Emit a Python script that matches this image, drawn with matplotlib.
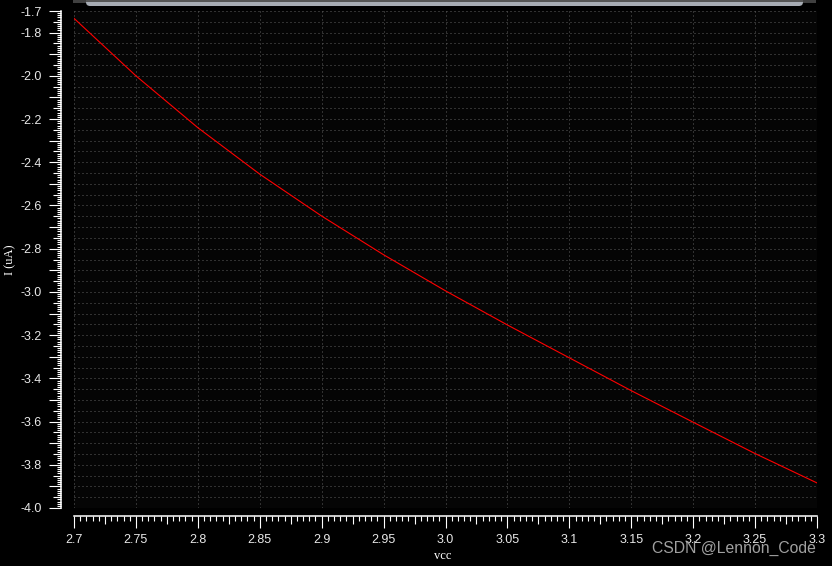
import numpy as np
import matplotlib
matplotlib.use("Agg")
import matplotlib.pyplot as plt
from matplotlib.patches import Rectangle, FancyBboxPatch
from matplotlib.transforms import IdentityTransform
from matplotlib.ticker import FixedLocator, FixedFormatter

# ---- data ----
vcc = [2.70, 2.75, 2.80, 2.85, 2.90, 2.95, 3.00, 3.05, 3.10, 3.15, 3.20, 3.25, 3.30]
current_uA = [-1.734, -2.000, -2.240, -2.455, -2.649, -2.828, -2.995, -3.153,
              -3.305, -3.457, -3.603, -3.748, -3.884]
y_label_values = [-1.7, -1.8, -2.0, -2.2, -2.4, -2.6, -2.8, -3.0, -3.2, -3.4,
                  -3.6, -3.8, -4.0]
x_label_values = [2.7, 2.75, 2.8, 2.85, 2.9, 2.95, 3.0, 3.05, 3.1, 3.15, 3.2,
                  3.25, 3.3]
x_label_texts = ["2.7", "2.75", "2.8", "2.85", "2.9", "2.95", "3.0", "3.05",
                 "3.1", "3.15", "3.2", "3.25", "3.3"]
x_title = "vcc"
y_title = "I (uA)"
watermark = "CSDN @Lennon_Code"

W, H = 832, 566
fig = plt.figure(figsize=(W / 100, H / 100), dpi=100, facecolor="black")
ax = fig.add_axes([74 / W, 1 - 508 / H, (817 - 74) / W, (508 - 11) / H])
ax.set_facecolor("#050505")

ax.plot(vcc, current_uA, color="#ff0000", lw=0.8, zorder=3)

ax.set_xlim(2.7, 3.3)
ax.set_ylim(-4.0, -1.7)

for s in ("top", "right"):
    ax.spines[s].set_visible(False)
for s in ("left", "bottom"):
    ax.spines[s].set_color("white")
    ax.spines[s].set_linewidth(1.1)
ax.spines["left"].set_position(("outward", 13 * 0.72))
ax.spines["bottom"].set_position(("outward", 8 * 0.72))

# y ticks: every 0.05 major (long at 0.1), minor every 0.01
ymaj = np.round(np.arange(-4.0, -1.7 + 1e-9, 0.05), 2)
ylabels = [f"{v:.1f}" if any(abs(v - l) < 1e-6 for l in y_label_values) else "" for v in ymaj]
ax.yaxis.set_major_locator(FixedLocator(ymaj))
ax.yaxis.set_major_formatter(FixedFormatter(ylabels))
ax.yaxis.set_minor_locator(FixedLocator(np.round(np.arange(-4.0, -1.7 + 1e-9, 0.01), 2)))

# x ticks: every 0.025 major (long at 0.05), minor every 0.005
xmaj = np.round(np.arange(2.7, 3.3 + 1e-9, 0.025), 3)
xlabels = []
for v in xmaj:
    lab = ""
    for lv, lt in zip(x_label_values, x_label_texts):
        if abs(v - lv) < 1e-6:
            lab = lt
    xlabels.append(lab)
ax.xaxis.set_major_locator(FixedLocator(xmaj))
ax.xaxis.set_major_formatter(FixedFormatter(xlabels))
ax.xaxis.set_minor_locator(FixedLocator(np.round(np.arange(2.7, 3.3 + 1e-9, 0.005), 3)))

ax.tick_params(axis="y", which="major", length=12 * 0.72, width=0.8, color="white",
               labelcolor="#e8e8e8", labelsize=9, pad=5)
ax.tick_params(axis="y", which="minor", length=4 * 0.72, width=0.8, color="white")
ax.tick_params(axis="x", which="major", length=12 * 0.72, width=0.8, color="white",
               labelcolor="#e8e8e8", labelsize=9, pad=4.5)
ax.tick_params(axis="x", which="minor", length=5 * 0.72, width=0.8, color="white")
for lab in ax.get_xticklabels() + ax.get_yticklabels():
    lab.set_family("Liberation Sans")

for t, v in zip(ax.yaxis.get_major_ticks(), ymaj):
    if abs(round(v * 10) - v * 10) > 1e-6:
        t.tick1line.set_markersize(8 * 0.72)
for t, v in zip(ax.xaxis.get_major_ticks(), xmaj):
    if abs(round(v * 20) - v * 20) > 1e-6:
        t.tick1line.set_markersize(8 * 0.72)

# dotted grid every 0.05 in both directions
grid_kw = dict(color="#5e5e5e", lw=0.72, ls=(0, (1, 3)), zorder=1)
for gx in np.round(np.arange(2.7, 3.3 + 1e-9, 0.05), 3):
    ax.axvline(gx, **grid_kw)
for gy in np.round(np.arange(-4.0, -1.7 + 1e-9, 0.05), 3):
    ax.axhline(gy, **grid_kw)

fig.text(443 / W, 1 - 556 / H, x_title, ha="center", va="center", color="white",
         fontsize=9, family="Liberation Serif")
fig.text(10 / W, 1 - 260 / H, y_title, ha="center", va="center", color="white",
         fontsize=9, family="Liberation Serif", rotation=90)

fig.text(652 / W, 1 - 553 / H, watermark, ha="left", va="baseline", color="#a0a0a0",
         fontsize=11.3, family="Liberation Sans")

# top scrollbar-like strip
idt = IdentityTransform()
fig.add_artist(Rectangle((73, H - 2.5), 743, 4, transform=idt, color="#404040", lw=0))
fig.add_artist(FancyBboxPatch((86, H - 6), 717, 12, boxstyle="round,pad=0,rounding_size=4",
                              transform=idt, facecolor="#a6abb3", edgecolor="none"))
fig.add_artist(Rectangle((86, H - 2), 717, 3, transform=idt, color="#555555", lw=0))

fig.savefig("out.png", dpi=100, facecolor="black")
